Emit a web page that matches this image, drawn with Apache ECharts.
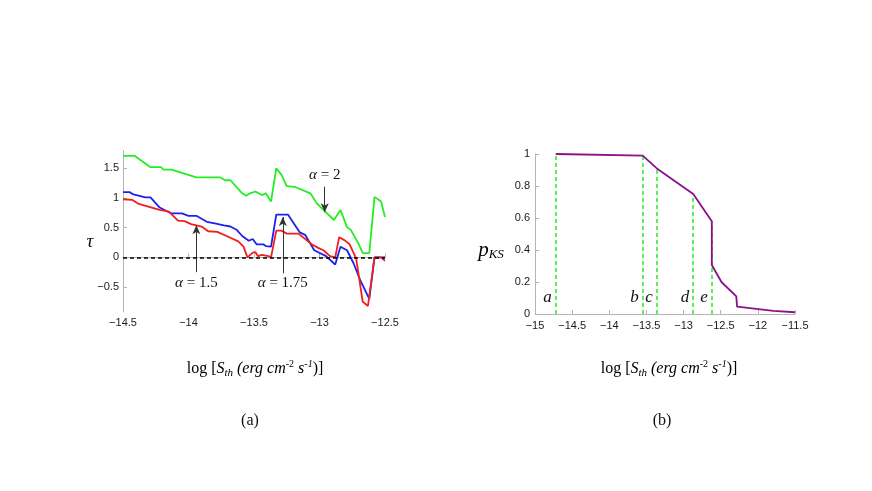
<!DOCTYPE html>
<html>
<head>
<meta charset="utf-8">
<script src="https://cdn.jsdelivr.net/npm/echarts@6/dist/echarts.min.js"></script>
<style>
html, body { margin: 0; background: #fff; }
#chart { width: 872px; height: 491px; }
</style>
</head>
<body>
<div id="chart"></div>
<script>
// panel (a): tau against log S_th, one curve per alpha
var alpha2 = [[-14.5,1.71],[-14.41,1.71],[-14.29,1.52],[-14.21,1.52],[-14.19,1.48],[-14.13,1.48],[-13.94,1.35],[-13.76,1.35],[-13.72,1.30],[-13.68,1.30],[-13.59,1.08],[-13.56,1.04],[-13.53,1.08],[-13.49,1.11],[-13.44,1.05],[-13.41,1.08],[-13.37,0.94],[-13.33,1.50],[-13.29,1.39],[-13.25,1.20],[-13.19,1.19],[-13.07,1.08],[-13.02,0.91],[-12.97,0.80],[-12.89,0.63],[-12.84,0.80],[-12.79,0.51],[-12.76,0.46],[-12.70,0.22],[-12.67,0.07],[-12.62,0.07],[-12.58,1.02],[-12.53,0.94],[-12.5,0.68]];
var alpha175 = [[-14.5,1.10],[-14.45,1.10],[-14.42,1.06],[-14.33,1.01],[-14.29,1.01],[-14.22,0.84],[-14.13,0.74],[-14.05,0.74],[-14.0,0.70],[-13.94,0.70],[-13.86,0.60],[-13.79,0.57],[-13.73,0.54],[-13.68,0.52],[-13.63,0.46],[-13.59,0.36],[-13.54,0.28],[-13.51,0.31],[-13.48,0.22],[-13.43,0.22],[-13.41,0.19],[-13.37,0.18],[-13.33,0.72],[-13.24,0.72],[-13.15,0.42],[-13.11,0.38],[-13.04,0.12],[-12.95,0.02],[-12.88,-0.12],[-12.84,0.18],[-12.79,0.12],[-12.74,-0.10],[-12.69,-0.38],[-12.62,-0.70],[-12.58,0.0],[-12.5,0.0]];
var alpha15 = [[-14.5,0.98],[-14.43,0.97],[-14.38,0.90],[-14.22,0.80],[-14.15,0.77],[-14.08,0.62],[-14.03,0.61],[-13.98,0.56],[-13.90,0.52],[-13.85,0.44],[-13.78,0.43],[-13.71,0.36],[-13.62,0.27],[-13.58,0.18],[-13.55,0.0],[-13.51,0.08],[-13.49,0.09],[-13.47,0.02],[-13.44,0.04],[-13.39,0.02],[-13.37,0.0],[-13.33,0.45],[-13.29,0.45],[-13.25,0.40],[-13.16,0.40],[-13.06,0.22],[-13.01,0.16],[-12.97,0.12],[-12.92,0.02],[-12.88,0.0],[-12.85,0.34],[-12.81,0.29],[-12.77,0.22],[-12.72,-0.02],[-12.67,-0.75],[-12.63,-0.82],[-12.58,0.0],[-12.53,0.0],[-12.5,-0.06]];
var tauTicks = [-0.5, 0, 0.5, 1, 1.5];

// arrows + labels in panel (a): x, arrow tail, arrow tip, text y
var arrowX = [-13.94, -13.28, -12.96];
var arrowFrom = [-0.25, -0.27, 1.19];
var arrowTo = [0.54, 0.68, 0.76];
var arrowText = ['1.5', '1.75', '2'];
var arrowTextY = [-0.44, -0.44, 1.39];

// panel (b): p_KS curve and the five cut points
var pks = [[-14.72,1.0],[-13.55,0.99],[-13.36,0.91],[-12.87,0.75],[-12.62,0.58],[-12.62,0.306],[-12.49,0.20],[-12.29,0.11],[-12.28,0.046],[-11.79,0.019],[-11.5,0.011]];
var cutX = [-14.72, -13.55, -13.36, -12.87, -12.62];
var cutP = [1.0, 0.99, 0.91, 0.75, 0.58];
var cutNames = ['a', 'b', 'c', 'd', 'e'];

var chart = echarts.init(document.getElementById('chart'), null, {renderer: 'canvas'});

function minus(v) { return String(v).replace('-', '\u2212'); }

var tickFont = {fontFamily: 'Liberation Sans', fontSize: 11, color: '#1a1a1a'};
var axisGray = {lineStyle: {color: '#b4b4b4', width: 1}};
var serifRich = {
	r: {fontFamily: 'Liberation Serif', fontSize: 16, color: '#111'},
	i: {fontFamily: 'Liberation Serif', fontSize: 16, fontStyle: 'italic', color: '#111'},
	sub: {fontFamily: 'Liberation Serif', fontSize: 11, fontStyle: 'italic', color: '#111', padding: [8, 0, 0, 0]},
	sup: {fontFamily: 'Liberation Serif', fontSize: 10, color: '#111', padding: [0, 0, 10, 0]},
	isup: {fontFamily: 'Liberation Serif', fontSize: 10, fontStyle: 'italic', color: '#111', padding: [0, 0, 10, 0]}
};
var xTitle = '{r|log [}{i|S}{sub|th}{i| (erg cm}{sup|-2}{i| s}{isup|-1}{r|)]}';

var arrowLines = arrowX.map(function (x, k) {
	return [{coord: [x, arrowFrom[k]]}, {coord: [x, arrowTo[k]]}];
});
var arrowLabels = arrowX.map(function (x, k) { return [x, arrowTextY[k], arrowText[k]]; });
var cutLines = cutX.map(function (x, k) {
	return [{coord: [x, 0]}, {coord: [x, cutP[k]]}];
});
var cutLabels = cutX.map(function (x, k) { return [x, 0.1, cutNames[k]]; });

chart.setOption({
	animation: false,
	backgroundColor: '#fff',
	grid: [
		{left: 123, top: 150.6, width: 262, height: 161.3},
		{left: 535, top: 154, width: 260, height: 160}
	],
	xAxis: [
		{
			type: 'value', gridIndex: 0, min: -14.5, max: -12.5, interval: 0.5,
			axisLine: axisGray, splitLine: {show: false},
			axisTick: {inside: true, length: 4, lineStyle: {color: '#b4b4b4'}},
			axisLabel: Object.assign({margin: 6, formatter: minus}, tickFont)
		},
		{
			type: 'value', gridIndex: 1, min: -15, max: -11.5, interval: 0.5,
			axisLine: axisGray, splitLine: {show: false},
			axisTick: {inside: true, length: 4, lineStyle: {color: '#b4b4b4'}},
			axisLabel: Object.assign({margin: 6, formatter: minus}, tickFont)
		}
	],
	yAxis: [
		{
			type: 'value', gridIndex: 0, min: -0.92, max: 1.8,
			axisLine: Object.assign({show: true}, axisGray), splitLine: {show: false},
			axisTick: {inside: true, length: 4, customValues: tauTicks, lineStyle: {color: '#b4b4b4'}},
			axisLabel: Object.assign({margin: 4, customValues: tauTicks, formatter: minus}, tickFont)
		},
		{
			type: 'value', gridIndex: 1, min: 0, max: 1, interval: 0.2,
			axisLine: Object.assign({show: true}, axisGray), splitLine: {show: false},
			axisTick: {inside: true, length: 4, lineStyle: {color: '#b4b4b4'}},
			axisLabel: Object.assign({margin: 5}, tickFont)
		}
	],
	series: [
		{
			type: 'line', xAxisIndex: 0, yAxisIndex: 0, data: alpha2, symbol: 'none',
			lineStyle: {color: '#22ee22', width: 1.8}
		},
		{
			type: 'line', xAxisIndex: 0, yAxisIndex: 0, data: alpha175, symbol: 'none',
			lineStyle: {color: '#1f1fee', width: 1.8},
			markLine: {
				silent: true, symbol: ['none', 'arrow'], symbolSize: [6, 9],
				lineStyle: {color: '#333', width: 1, type: 'solid'}, label: {show: false},
				data: arrowLines
			}
		},
		{
			type: 'line', xAxisIndex: 0, yAxisIndex: 0, data: alpha15, symbol: 'none',
			lineStyle: {color: '#ee1f1f', width: 1.8},
			markLine: {
				silent: true, symbol: 'none',
				lineStyle: {color: '#000', width: 1.5, type: [4, 3]}, label: {show: false},
				data: [{yAxis: 0}]
			}
		},
		{
			type: 'scatter', xAxisIndex: 0, yAxisIndex: 0, data: arrowLabels, symbolSize: 0,
			silent: true, itemStyle: {opacity: 1},
			label: {
				show: true, position: 'inside', color: '#111', textBorderWidth: 0,
				formatter: function (p) { return '{a|\u03b1}{t| = ' + p.value[2] + '}'; },
				rich: {
					a: {fontFamily: 'Liberation Serif', fontSize: 15, fontStyle: 'italic', color: '#111', textBorderWidth: 0},
					t: {fontFamily: 'Liberation Serif', fontSize: 15, color: '#111', textBorderWidth: 0}
				}
			}
		},
		{
			type: 'line', xAxisIndex: 1, yAxisIndex: 1, data: pks, symbol: 'none',
			z: 3,
			lineStyle: {color: '#8b108b', width: 1.8},
			markLine: {
				silent: true, symbol: 'none', z: 2,
				lineStyle: {color: '#22ee22', width: 1.5, type: [4, 3]}, label: {show: false},
				data: cutLines
			}
		},
		{
			type: 'scatter', xAxisIndex: 1, yAxisIndex: 1, data: cutLabels, symbolSize: 0,
			silent: true, itemStyle: {opacity: 1},
			label: {
				show: true, position: 'left', distance: 4, textBorderWidth: 0,
				formatter: function (p) { return p.value[2]; },
				fontFamily: 'Liberation Serif', fontSize: 17, fontStyle: 'italic', color: '#111'
			}
		}
	],
	graphic: [
		{type: 'text', x: 255, y: 369, style: {text: xTitle, rich: serifRich, align: 'center', verticalAlign: 'middle'}},
		{type: 'text', x: 669, y: 369, style: {text: xTitle, rich: serifRich, align: 'center', verticalAlign: 'middle'}},
		{type: 'text', x: 250, y: 421, style: {text: '(a)', font: '16px "Liberation Serif"', fill: '#111', align: 'center', verticalAlign: 'middle'}},
		{type: 'text', x: 662, y: 421, style: {text: '(b)', font: '16px "Liberation Serif"', fill: '#111', align: 'center', verticalAlign: 'middle'}},
		{type: 'text', x: 90, y: 242, style: {text: '\u03c4', font: 'italic 19px "Liberation Serif"', fill: '#111', align: 'center', verticalAlign: 'middle'}},
		{type: 'text', x: 491, y: 250, style: {
			text: '{p|p}{s|KS}', align: 'center', verticalAlign: 'middle',
			rich: {
				p: {fontFamily: 'Liberation Serif', fontSize: 21, fontStyle: 'italic', color: '#111'},
				s: {fontFamily: 'Liberation Serif', fontSize: 13, fontStyle: 'italic', color: '#111', padding: [10, 0, 0, 0]}
			}
		}}
	]
});
</script>
</body>
</html>
